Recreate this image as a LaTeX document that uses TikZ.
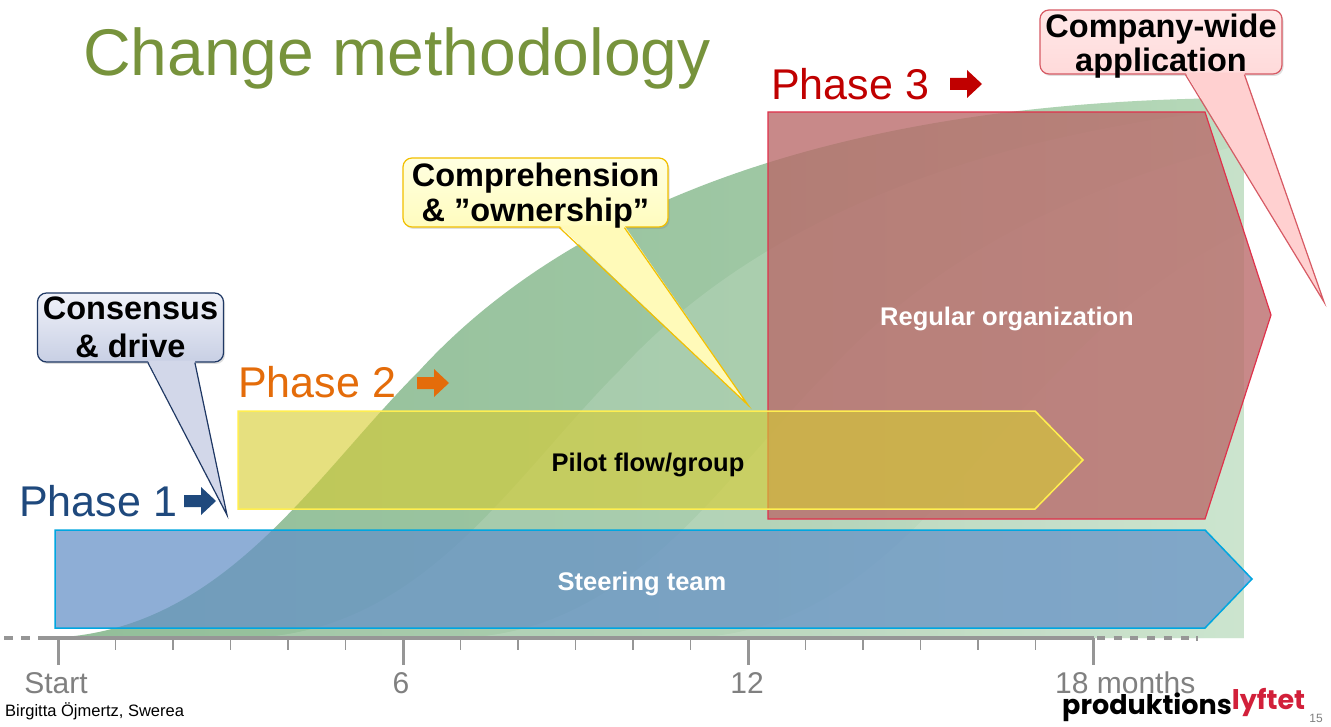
\documentclass[tikz,border=0pt]{standalone}
\usepackage{fontspec}
\setmainfont{Liberation Sans}
\newfontfamily\logofont{Poppins}
\usetikzlibrary{shadows,calc}
\definecolor{titlegreen}{RGB}{119,147,60}
\definecolor{ph1}{RGB}{31,73,125}
\definecolor{ph2}{RGB}{228,108,10}
\definecolor{ph3}{RGB}{192,0,0}
\definecolor{bluefill}{RGB}{101,145,199}
\definecolor{blueline}{RGB}{0,166,224}
\definecolor{yelfill}{RGB}{215,205,50}
\definecolor{yelline}{RGB}{255,238,80}
\definecolor{redfill}{RGB}{185,105,105}
\definecolor{redline}{RGB}{224,49,75}
\definecolor{axisgray}{RGB}{150,150,150}
\definecolor{labgray}{RGB}{128,128,128}
\definecolor{cbline}{RGB}{31,56,100}
\definecolor{cbtop}{RGB}{240,242,249}
\definecolor{cbbot}{RGB}{200,207,228}
\definecolor{cbpt}{RGB}{210,215,233}
\definecolor{cyline}{RGB}{242,192,0}
\definecolor{cytop}{RGB}{255,255,225}
\definecolor{cybot}{RGB}{255,252,190}
\definecolor{cypt}{RGB}{255,250,185}
\definecolor{cpline}{RGB}{215,90,100}
\definecolor{cptop}{RGB}{255,232,232}
\definecolor{cpbot}{RGB}{255,218,218}
\definecolor{cppt}{RGB}{255,208,208}
\definecolor{logored}{RGB}{210,32,58}
\pgfdeclarehorizontalshading{greensh}{100bp}{rgb(0bp)=(0.54,0.72,0.57); rgb(55bp)=(0.62,0.78,0.64); rgb(100bp)=(0.84,0.94,0.84)}
\newcommand\PhArrow[3]{%
  \fill[#3] (#1,#2-6) -- (#1+17,#2-6) -- (#1+17,#2-14) -- (#1+32,#2) -- (#1+17,#2+14) -- (#1+17,#2+6) -- (#1,#2+6) -- cycle;}
\tikzset{
  phase/.style={inner sep=0pt, anchor=base west, font=\fontsize{43pt}{50pt}\selectfont},
  bartext/.style={inner sep=0pt, font=\bfseries\fontsize{25.5pt}{30pt}\selectfont},
  ctext/.style={inner sep=0pt, anchor=base, font=\bfseries\fontsize{32.5pt}{38pt}\selectfont},
  cbox/.style={rounded corners=9pt, line width=1.2pt, inner sep=0pt,
     drop shadow={opacity=0.25, shadow xshift=1.5pt, shadow yshift=-2pt}},
  axlab/.style={inner sep=0pt, anchor=base, text=labgray, font=\fontsize{30pt}{36pt}\selectfont},
  axisline/.style={draw=axisgray, line width=4pt},
}
\begin{document}
\begin{tikzpicture}[x=1pt,y=-1pt]
\useasboundingbox[fill=white] (0,0) rectangle (1331,727);

% green growth area
\begin{scope}
  \path[clip] (40,638) .. controls (220,638) and (310,480) .. (420,370)
     .. controls (530,250) and (760,100) .. (1244,98) -- (1244,638) -- cycle;
  \shade[shading=greensh] (40,90) rectangle (1244,640);
  \fill[white, opacity=0.13] (240,638) .. controls (420,638) and (510,480) .. (620,370)
     .. controls (730,250) and (960,100) .. (1444,98) -- (1444,700) -- (240,700) -- cycle;
  \fill[white, opacity=0.12] (450,638) .. controls (630,638) and (720,480) .. (830,370)
     .. controls (940,250) and (1170,100) .. (1654,98) -- (1654,700) -- (450,700) -- cycle;
  \fill[white, opacity=0.10] (680,638) .. controls (860,638) and (950,480) .. (1060,370)
     .. controls (1170,250) and (1400,100) .. (1884,98) -- (1884,700) -- (680,700) -- cycle;
\end{scope}

% title
\node[inner sep=0pt, anchor=base west, text=titlegreen, font=\fontsize{66pt}{79pt}\selectfont] (title) at (83,76) {Change methodology};

% Phase 3 bar
\filldraw[fill=redfill, fill opacity=0.78, draw=redline, line width=1.2pt]
  (768,112) -- (1205,112) -- (1271,315) -- (1205,519) -- (768,519) -- cycle;
\node[bartext, text=white] (reg) at (1007,319) {Regular organization};

% Phase 2 bar
\filldraw[fill=yelfill, fill opacity=0.62, draw=yelline, line width=1.5pt]
  (238,411) -- (1035,411) -- (1083,460) -- (1035,509) -- (238,509) -- cycle;
\node[bartext, text=black] (pilot) at (648,465) {Pilot flow/group};

% Phase 1 bar
\filldraw[fill=bluefill, fill opacity=0.73, draw=blueline, line width=1.5pt]
  (55,530) -- (1205,530) -- (1252,579) -- (1205,628) -- (55,628) -- cycle;
\node[bartext, text=white] (steer) at (642,584) {Steering team};

% phase labels
\node[phase, text=ph1] (p1) at (19,516) {Phase 1};
\PhArrow{184}{501}{ph1}
\node[phase, text=ph2] (p2) at (238,397) {Phase 2};
\PhArrow{417}{383}{ph2}
\node[phase, text=ph3] (p3) at (771,100) {Phase 3};
\PhArrow{950}{84}{ph3}

% axis
\draw[axisline] (38,638) -- (1094,638);
\draw[axisline, dash pattern=on 9pt off 8pt] (4,638) -- (38,638);
\draw[axisline, dash pattern=on 8pt off 8.7pt] (1097,638) -- (1192,638);
\draw[draw=axisgray, line width=1.2pt] (1197,636) -- (1197,641);
\foreach \i in {0,...,18} {
  \draw[draw=axisgray, line width=1.2pt] (58+\i*57.5,638) -- (58+\i*57.5,650);
}
\foreach \i in {0,6,12,18} {
  \draw[draw=axisgray, line width=3pt] (58+\i*57.5,638) -- (58+\i*57.5,665);
}
\node[axlab] (lstart) at (56,693) {Start};
\node[axlab] (l6) at (401,693) {6};
\node[axlab] (l12) at (747,693) {12};
\node[axlab, anchor=base west] (l18) at (1055,693) {18 months};

% callout: Consensus & drive
\node[cbox, draw=cbline, top color=cbtop, bottom color=cbbot, minimum width=186pt, minimum height=69pt] (cb1) at (130.5,327.5) {};
\coordinate (t1) at (227,515);
\fill[cbpt] ($(cb1.south west)+(111,-2)$) -- (t1) -- ($(cb1.south west)+(158,-2)$) -- cycle;
\draw[cbline, line width=1.2pt] ($(cb1.south west)+(111,0)$) -- (t1) -- ($(cb1.south west)+(158,0)$);
\node[ctext] (cb1a) at (130.5,320) {Consensus};
\node[ctext] (cb1b) at (130.5,358) {\& drive};

% callout: Comprehension
\node[cbox, draw=cyline, top color=cytop, bottom color=cybot, minimum width=265pt, minimum height=69pt] (cb2) at (535.5,192.5) {};
\coordinate (t2) at (748,405);
\fill[cypt] ($(cb2.south west)+(157,-2)$) -- (t2) -- ($(cb2.south west)+(222,-2)$) -- cycle;
\draw[cyline, line width=1.2pt] ($(cb2.south west)+(157,0)$) -- (t2) -- ($(cb2.south west)+(222,0)$);
\node[ctext] (cb2a) at (535.5,187) {Comprehension};
\node[ctext] (cb2b) at (535.5,222) {\& ”ownership”};

% callout: Company-wide application
\node[cbox, draw=cpline, top color=cptop, bottom color=cpbot, minimum width=242pt, minimum height=64pt] (cb3) at (1161,42) {};
\coordinate (t3) at (1324,302);
\fill[cppt] ($(cb3.south west)+(146,-2)$) -- (t3) -- ($(cb3.south west)+(205,-2)$) -- cycle;
\draw[cpline, line width=1.2pt] ($(cb3.south west)+(146,0)$) -- (t3) -- ($(cb3.south west)+(205,0)$);
\node[ctext] (cb3a) at (1161,38) {Company-wide};
\node[ctext] (cb3b) at (1161,72) {application};

% footer
\node[inner sep=0pt, anchor=base west, font=\fontsize{16.5pt}{20pt}\selectfont] (author) at (5,716) {Birgitta Öjmertz, Swerea};
\node[inner sep=0pt, anchor=base west, font=\logofont\bfseries\fontsize{27pt}{32pt}\selectfont] (logo) at (1062,714) {produktions\raisebox{5pt}{\color{logored}lyftet}};
\node[inner sep=0pt, anchor=base, text=labgray, font=\fontsize{12pt}{14pt}\selectfont] (pgno) at (1316,722) {15};
\end{tikzpicture}
\end{document}
